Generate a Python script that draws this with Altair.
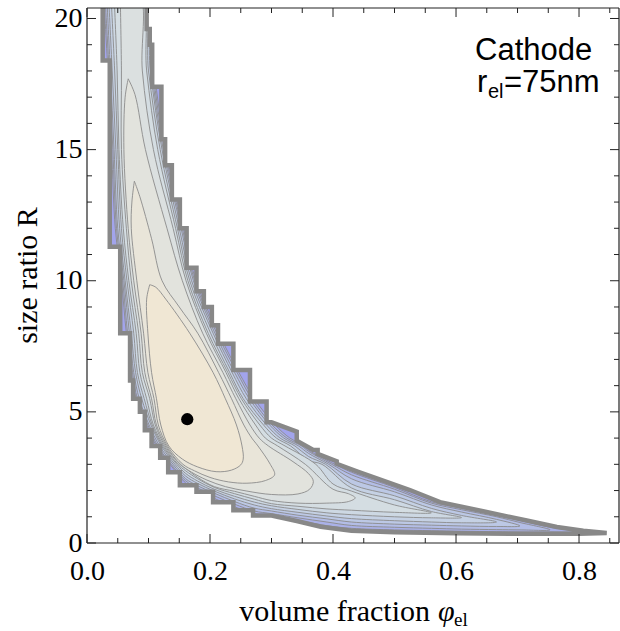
import altair as alt
import pandas as pd

# ---------------- data ----------------
X_MAX = 0.865
Y_MAX = 20.4
W, H = 532, 535

# stair-stepped boundary of the valid region (phi_el, R):
# left/bottom edge from the top of the plot down to the tail tip ...
OUTER_LEFT = [(0.0255, 20.9), (0.0255, 18.4), (0.037, 18.4), (0.037, 11.3), (0.054, 11.3), (0.054, 8.0),
              (0.070, 8.0), (0.070, 6.2), (0.075, 6.2), (0.075, 5.5), (0.086, 5.5), (0.086, 5.0),
              (0.094, 5.0), (0.094, 4.3), (0.105, 4.3), (0.105, 3.7), (0.119, 3.7), (0.119, 3.25),
              (0.132, 3.25), (0.132, 2.7), (0.151, 2.7), (0.151, 2.2), (0.178, 2.2), (0.178, 1.95),
              (0.205, 1.95), (0.205, 1.55), (0.238, 1.55), (0.238, 1.25), (0.27, 1.25), (0.27, 1.05),
              (0.30, 1.05), (0.341, 0.84), (0.38, 0.62), (0.43, 0.47), (0.5, 0.41), (0.6, 0.37),
              (0.7, 0.355), (0.8, 0.35), (0.845, 0.38)]
# ... and the upper/right edge from the tail tip back up to the top of the plot
OUTER_RIGHT = [(0.845, 0.38), (0.807, 0.47), (0.764, 0.61), (0.715, 0.86), (0.644, 1.21), (0.574, 1.56),
               (0.525, 2.02), (0.47, 2.47), (0.44, 2.72), (0.406, 3.02), (0.406, 3.12), (0.375, 3.4),
               (0.375, 3.55), (0.368, 3.55), (0.341, 3.9), (0.341, 4.25), (0.3, 4.6), (0.292, 4.6),
               (0.292, 5.4), (0.265, 5.4), (0.265, 6.6), (0.238, 6.6), (0.238, 7.6), (0.213, 7.6),
               (0.213, 8.3), (0.203, 8.3), (0.203, 9.0), (0.19, 9.0), (0.19, 9.6), (0.178, 9.6),
               (0.178, 10.5), (0.162, 10.5), (0.162, 12.0), (0.151, 12.0), (0.151, 13.1), (0.138, 13.1),
               (0.138, 14.4), (0.127, 14.4), (0.127, 15.4), (0.121, 15.4), (0.121, 17.4), (0.106, 17.4),
               (0.106, 19.0), (0.102, 19.0), (0.102, 19.6), (0.097, 19.6), (0.097, 20.9)]

# contour lines, outermost (L10) to innermost (L1)
L10 = [(0.027, 20.9), (0.034, 18), (0.040, 15), (0.046, 12), (0.056, 10), (0.064, 8), (0.072, 6.5),
       (0.080, 5.5), (0.097, 4.5), (0.113, 3.7), (0.135, 3.0), (0.16, 2.3), (0.18, 2.02), (0.207, 1.7),
       (0.24, 1.38), (0.272, 1.12), (0.3, 1.03), (0.343, 0.86), (0.39, 0.66), (0.43, 0.56), (0.5, 0.5),
       (0.56, 0.47), (0.609, 0.45), (0.666, 0.43), (0.704, 0.42), (0.753, 0.42), (0.80, 0.43),
       (0.753, 0.6), (0.704, 0.86), (0.666, 1.06), (0.609, 1.33), (0.56, 1.57), (0.5, 2.12), (0.43, 2.7),
       (0.403, 3.0), (0.36, 3.55), (0.354, 3.7), (0.33, 4.0), (0.306, 4.5), (0.272, 5.5), (0.247, 6.5),
       (0.214, 8), (0.177, 10), (0.157, 12), (0.128, 15), (0.109, 18), (0.097, 20.9)]
L9 = [(0.029, 20.9), (0.036, 18), (0.042, 15), (0.048, 12), (0.058, 10), (0.066, 8), (0.074, 6.5),
      (0.082, 5.5), (0.099, 4.5), (0.115, 3.7), (0.137, 3.0), (0.16, 2.38), (0.18, 2.1), (0.207, 1.8),
      (0.24, 1.48), (0.272, 1.22), (0.3, 1.12), (0.343, 0.96), (0.39, 0.8), (0.43, 0.67), (0.5, 0.6),
      (0.56, 0.56), (0.609, 0.53), (0.666, 0.51), (0.704, 0.5), (0.753, 0.5),
      (0.704, 0.78), (0.666, 1.0), (0.609, 1.27), (0.56, 1.52), (0.5, 2.05), (0.43, 2.6), (0.398, 3.0),
      (0.36, 3.5), (0.349, 3.7), (0.325, 4.0), (0.301, 4.5), (0.268, 5.5), (0.244, 6.5), (0.211, 8),
      (0.175, 10), (0.155, 12), (0.126, 15), (0.107, 18), (0.095, 20.9)]
L8 = [(0.032, 20.9), (0.038, 18), (0.044, 15), (0.050, 12), (0.060, 10), (0.069, 8), (0.076, 6.5),
      (0.085, 5.5), (0.101, 4.5), (0.118, 3.7), (0.140, 3.0), (0.16, 2.46), (0.18, 2.18), (0.207, 1.9),
      (0.24, 1.58), (0.272, 1.33), (0.3, 1.22), (0.343, 1.06), (0.39, 0.92), (0.43, 0.8), (0.5, 0.72),
      (0.56, 0.68), (0.609, 0.65), (0.666, 0.63), (0.704, 0.65),
      (0.666, 0.9), (0.609, 1.18), (0.56, 1.45), (0.5, 1.95), (0.43, 2.45), (0.393, 3.0), (0.36, 3.42),
      (0.344, 3.7), (0.32, 4.0), (0.297, 4.5), (0.264, 5.5), (0.240, 6.5), (0.208, 8), (0.173, 10),
      (0.153, 12), (0.124, 15), (0.105, 18), (0.093, 20.9)]
L7 = [(0.035, 20.9), (0.041, 18), (0.047, 15), (0.053, 12), (0.062, 10), (0.072, 8), (0.079, 6.5),
      (0.089, 5.5), (0.104, 4.5), (0.121, 3.7), (0.143, 3.0), (0.16, 2.56), (0.18, 2.27), (0.207, 1.98),
      (0.24, 1.68), (0.272, 1.45), (0.3, 1.31), (0.343, 1.17), (0.39, 1.03), (0.43, 0.93), (0.5, 0.85),
      (0.56, 0.8), (0.609, 0.77), (0.666, 0.8),
      (0.609, 1.05), (0.56, 1.32), (0.5, 1.8), (0.43, 2.25), (0.388, 3.0), (0.36, 3.3), (0.338, 3.7),
      (0.314, 4.0), (0.292, 4.5), (0.259, 5.5), (0.236, 6.5), (0.205, 8), (0.170, 10), (0.150, 12),
      (0.122, 15), (0.103, 18), (0.091, 20.9)]
L6 = [(0.039, 20.9), (0.045, 18), (0.050, 15), (0.056, 12), (0.065, 10), (0.076, 8), (0.082, 6.5),
      (0.093, 5.5), (0.106, 4.5), (0.123, 3.7), (0.146, 3.0), (0.16, 2.66), (0.18, 2.36), (0.207, 2.05),
      (0.24, 1.78), (0.272, 1.56), (0.3, 1.42), (0.343, 1.28), (0.39, 1.15), (0.43, 1.08), (0.5, 1.0),
      (0.56, 0.96), (0.609, 0.97),
      (0.56, 1.2), (0.5, 1.65), (0.43, 2.1), (0.382, 3.0), (0.36, 3.15), (0.331, 3.7), (0.308, 4.0),
      (0.287, 4.5), (0.254, 5.5), (0.232, 6.5), (0.201, 8), (0.167, 10), (0.147, 12), (0.119, 15),
      (0.100, 18), (0.089, 20.9)]
L5 = [(0.044, 20.9), (0.049, 18), (0.052, 15), (0.059, 12), (0.068, 10), (0.080, 8), (0.086, 6.5),
      (0.097, 5.5), (0.108, 4.5), (0.125, 3.7), (0.148, 3.0), (0.16, 2.76), (0.18, 2.45), (0.207, 2.12),
      (0.24, 1.88), (0.272, 1.67), (0.3, 1.5), (0.343, 1.4), (0.39, 1.3), (0.43, 1.25), (0.5, 1.17),
      (0.56, 1.15),
      (0.5, 1.45), (0.43, 1.98), (0.4, 2.25), (0.372, 3.0), (0.322, 3.7), (0.3, 4.0), (0.281, 4.5),
      (0.251, 5.5), (0.229, 6.5), (0.197, 8), (0.164, 10), (0.144, 12), (0.115, 15), (0.097, 18),
      (0.087, 20.9)]
L4 = [(0.054, 20.9), (0.056, 18), (0.056, 15), (0.064, 12), (0.072, 10), (0.084, 8), (0.090, 6.5),
      (0.102, 5.5), (0.111, 4.5), (0.127, 3.7), (0.151, 3.0), (0.16, 2.85), (0.18, 2.5), (0.207, 2.15),
      (0.24, 1.97), (0.272, 1.78), (0.3, 1.62), (0.343, 1.52), (0.39, 1.52), (0.425, 1.58),
      (0.436, 1.72),
      (0.425, 1.88), (0.4, 2.05), (0.355, 3.0), (0.31, 3.7), (0.29, 4.0), (0.274, 4.5), (0.247, 5.5),
      (0.226, 6.5), (0.194, 8), (0.161, 10), (0.14, 12), (0.108, 15), (0.09, 18), (0.085, 20.9)]
L3 = [(0.067, 17.7), (0.062, 17.0), (0.060, 15.0), (0.067, 12.0), (0.076, 10.0), (0.088, 8.0),
      (0.094, 6.5), (0.105, 5.5), (0.113, 4.5), (0.129, 3.7), (0.152, 3.0), (0.17, 2.7), (0.195, 2.4),
      (0.225, 2.15), (0.26, 1.98), (0.3, 1.85), (0.343, 1.87), (0.362, 2.05), (0.368, 2.35),
      (0.36, 2.65), (0.335, 3.1), (0.295, 3.7), (0.28, 4.0), (0.265, 4.5), (0.242, 5.5), (0.221, 6.5),
      (0.188, 8.0), (0.155, 10.0), (0.13, 12.0), (0.095, 15.0), (0.078, 17.1)]
L2 = [(0.077, 13.8), (0.073, 13.0), (0.072, 12.0), (0.081, 10.0), (0.092, 8.0), (0.099, 6.5),
      (0.109, 5.5), (0.116, 4.5), (0.131, 3.7), (0.156, 3.0), (0.175, 2.75), (0.2, 2.5), (0.23, 2.33),
      (0.26, 2.28), (0.29, 2.38), (0.305, 2.6), (0.298, 3.0), (0.278, 3.7), (0.268, 4.0), (0.255, 4.5),
      (0.235, 5.5), (0.214, 6.5), (0.18, 8.0), (0.15, 9.0), (0.122, 10.0), (0.105, 11.6), (0.086, 13.2)]
L1 = [(0.102, 9.85), (0.097, 9.3), (0.099, 8.0), (0.105, 6.5), (0.113, 5.5), (0.120, 4.5),
      (0.133, 3.7), (0.155, 3.2), (0.18, 2.9), (0.21, 2.72), (0.235, 2.78), (0.25, 2.98), (0.254, 3.2),
      (0.252, 3.7), (0.243, 4.5), (0.225, 5.5), (0.205, 6.5), (0.167, 8.0), (0.128, 9.3), (0.112, 9.75)]

CONTOURS = [L10, L9, L8, L7, L6, L5, L4, L3, L2, L1]
FILLS = ["#aab1e8", "#b3bde6", "#bcc8e5", "#c5d1e4", "#cdd8e3",
         "#d4dde2", "#dbe0e0", "#e2e3dd", "#e9e5d9", "#f0e7d4"]
OUTER_FILL = "#a2a4ec"

OPT_PHI = [0.163]
OPT_R = [4.72]

X_MAJOR = [0.0, 0.2, 0.4, 0.6, 0.8]
X_MINOR = [0.05, 0.1, 0.15, 0.25, 0.3, 0.35, 0.45, 0.5, 0.55, 0.65, 0.7, 0.75, 0.85]
Y_MAJOR = [0, 5, 10, 15, 20]
Y_MINOR = [1, 2, 3, 4, 6, 7, 8, 9, 11, 12, 13, 14, 16, 17, 18, 19]

# ---------------- chart ----------------
SERIF = "Liberation Serif"
SANS = "Liberation Sans"

xs = alt.Scale(domain=[0, X_MAX], nice=False, zero=False)
ys = alt.Scale(domain=[0, Y_MAX], nice=False, zero=False)
XAX = alt.Axis(values=X_MAJOR, format=".1f", ticks=False, domain=False, grid=False,
               labelFont=SERIF, labelFontSize=28, labelColor="black", labelPadding=14,
               labelFlush=False, title=None)
YAX = alt.Axis(values=Y_MAJOR, format="d", ticks=False, domain=False, grid=False,
               labelFont=SERIF, labelFontSize=28, labelColor="black", labelPadding=5,
               title=None)


def enc_x(field):
    return alt.X(f"{field}:Q", scale=xs, axis=XAX)


def enc_y(field):
    return alt.Y(f"{field}:Q", scale=ys, axis=YAX)


def poly_df(points, close=True):
    pts = list(points) + ([points[0]] if close else [])
    return pd.DataFrame({"phi": [p[0] for p in pts], "R": [p[1] for p in pts],
                         "i": list(range(len(pts)))})


def region(points, fill, stroke, sw, interp="linear"):
    return alt.Chart(poly_df(points)).mark_line(
        fill=fill, stroke=stroke, strokeWidth=sw, clip=True, strokeJoin="round",
        interpolate=interp
    ).encode(x=enc_x("phi"), y=enc_y("R"), order="i:Q")


OUTER = OUTER_LEFT + OUTER_RIGHT[1:]
layers = [region(OUTER, OUTER_FILL, "#8a8a8a", 1)]
for pts, col in zip(CONTOURS, FILLS):
    layers.append(region(pts, col, "#8b8b8b", 0.9, interp="catmull-rom"))

# white masks outside the stair-stepped boundary (cut the contours there)
MASK_R = OUTER_RIGHT + [(0.95, 20.9), (0.95, 0.38)]
MASK_L = [(-0.05, 20.9)] + OUTER_LEFT + [(0.95, 0.38), (0.95, -1.0), (-0.05, -1.0)]
for m in (MASK_R, MASK_L):
    layers.append(alt.Chart(poly_df(m)).mark_line(
        fill="white", stroke="white", strokeWidth=0.5, clip=True
    ).encode(x=enc_x("phi"), y=enc_y("R"), order="i:Q"))

# thick outer boundary on top
layers.append(alt.Chart(poly_df(OUTER, close=False)).mark_line(
    stroke="#888888", strokeWidth=4.5, clip=True, strokeJoin="miter"
).encode(x=enc_x("phi"), y=enc_y("R"), order="i:Q"))

# optimum point
layers.append(alt.Chart(pd.DataFrame({"phi": OPT_PHI, "R": OPT_R})).mark_circle(
    size=150, color="black", opacity=1).encode(x=enc_x("phi"), y=enc_y("R")))

# frame
FRAME = "#222222"
layers.append(alt.Chart(pd.DataFrame({"a": [0]})).mark_rule(color=FRAME, strokeWidth=1.2).encode(
    x=alt.value(0), y=alt.value(0), y2=alt.value(H)))
layers.append(alt.Chart(pd.DataFrame({"a": [0]})).mark_rule(color=FRAME, strokeWidth=1.2).encode(
    x=alt.value(W), y=alt.value(0), y2=alt.value(H)))
layers.append(alt.Chart(pd.DataFrame({"a": [0]})).mark_rule(color=FRAME, strokeWidth=1.2).encode(
    x=alt.value(0), x2=alt.value(W), y=alt.value(0)))
layers.append(alt.Chart(pd.DataFrame({"a": [0]})).mark_rule(color=FRAME, strokeWidth=1.2).encode(
    x=alt.value(0), x2=alt.value(W), y=alt.value(H)))

# inward frame ticks
for vals, L in ((X_MAJOR, 9), (X_MINOR, 5)):
    df = pd.DataFrame({"t": vals})
    layers.append(alt.Chart(df).mark_rule(color=FRAME, strokeWidth=1).encode(
        x=enc_x("t"), y=alt.value(H), y2=alt.value(H - L)))
    layers.append(alt.Chart(df).mark_rule(color=FRAME, strokeWidth=1).encode(
        x=enc_x("t"), y=alt.value(0), y2=alt.value(L)))
for vals, L in ((Y_MAJOR, 9), (Y_MINOR, 5)):
    df = pd.DataFrame({"t": vals})
    layers.append(alt.Chart(df).mark_rule(color=FRAME, strokeWidth=1).encode(
        y=enc_y("t"), x=alt.value(0), x2=alt.value(L)))
    layers.append(alt.Chart(df).mark_rule(color=FRAME, strokeWidth=1).encode(
        y=enc_y("t"), x=alt.value(W), x2=alt.value(W - L)))

one = pd.DataFrame({"a": [0]})


def label(text, x, y, font, size, align="left", angle=0, style="normal"):
    return alt.Chart(one).mark_text(
        text=text, font=font, fontSize=size, align=align, baseline="alphabetic",
        angle=angle, fontStyle=style, color="black"
    ).encode(x=alt.value(x), y=alt.value(y))


# axis titles
layers.append(label("volume fraction", 343, 613, SERIF, 30, align="right"))
layers.append(label("\u03c6", 351, 613, SERIF, 30, style="italic"))
layers.append(label("el", 367, 618, SERIF, 19))
layers.append(label("size ratio R", -50, H / 2, SERIF, 30, align="center", angle=270))

# annotation
layers.append(label("Cathode", 388, 52, SANS, 31))
layers.append(label("r", 390, 84, SANS, 31))
layers.append(label("el", 401, 90, SANS, 20))
layers.append(label("=75nm", 417, 84, SANS, 31))

chart = alt.layer(*layers).properties(
    width=W, height=H,
    autosize=alt.AutoSizeParams(type="none"),
    padding={"left": 87, "top": 8, "right": 1, "bottom": 88},
    background="white",
).configure_view(stroke=None)

chart.save("out.html", embed_options={"renderer": "svg", "actions": False})
